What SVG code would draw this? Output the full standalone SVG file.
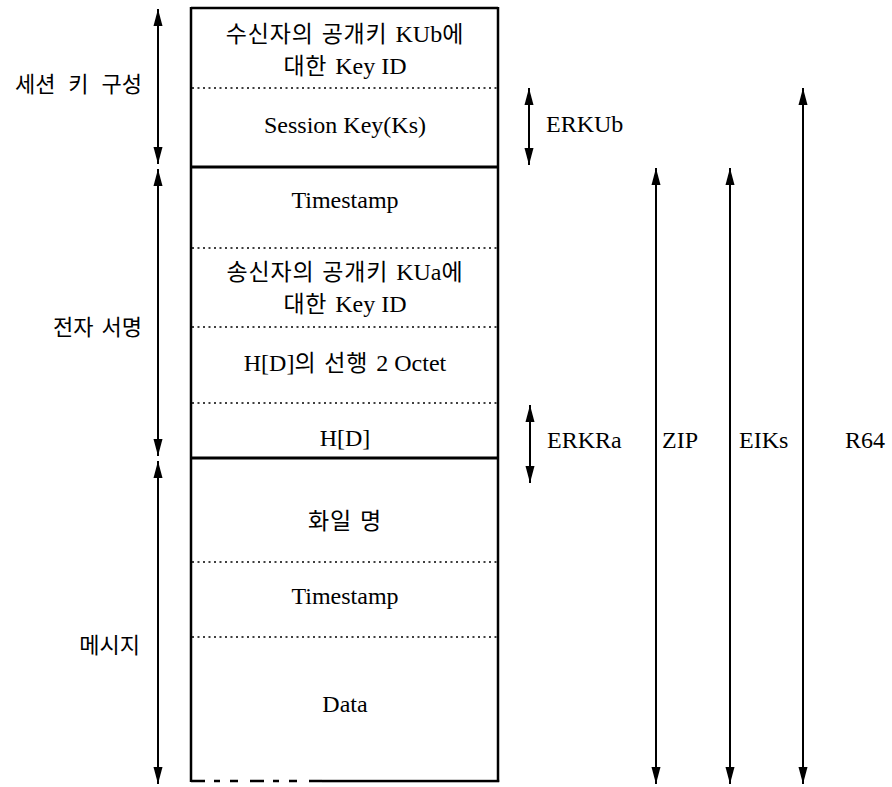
<svg xmlns="http://www.w3.org/2000/svg" width="892" height="787" viewBox="0 0 892 787">
<style>
.box{fill:none;stroke:#000;stroke-width:2.5}
.thick{stroke:#000;stroke-width:3}
.dot{stroke:#000;stroke-width:1.6;stroke-dasharray:2 3.5}
.arr{stroke:#000;stroke-width:2;fill:none}
.t{font-family:"Liberation Serif",serif;font-size:24px;fill:#000;text-anchor:middle}
.h{font-family:"Noto Sans CJK KR","Noto Sans",sans-serif;font-size:23px;word-spacing:2px;letter-spacing:0.8px}
.k{font-family:"Noto Sans CJK KR","Noto Sans",sans-serif;font-size:22px;fill:#000;text-anchor:end}
.r{font-family:"Liberation Serif",serif;font-size:24px;fill:#000}
</style>
<defs>
<marker id="ah" markerUnits="userSpaceOnUse" markerWidth="17" markerHeight="10" refX="17" refY="5" orient="auto-start-reverse">
<path d="M0,0.5 L17,5 L0,9.5 z" fill="#000"/>
</marker>
</defs>
<rect width="892" height="787" fill="#fff"/>
<g id="frame">
<line class="box" x1="191" y1="8" x2="498" y2="8"/>
<line class="box" x1="191" y1="7" x2="191" y2="782"/>
<line class="box" x1="498" y1="7" x2="498" y2="782"/>
<path class="box" d="M191,781 H322" stroke-dasharray="14 9 6 10 8 12"/>
<rect x="322" y="779.8" width="177.2" height="2.5" fill="#000"/>
<line class="thick" x1="191" y1="167" x2="498" y2="167"/>
<line class="thick" x1="191" y1="458" x2="498" y2="458"/>
<line class="dot" x1="192" y1="88" x2="497" y2="88"/>
<line class="dot" x1="192" y1="248" x2="497" y2="248"/>
<line class="dot" x1="192" y1="327" x2="497" y2="327"/>
<line class="dot" x1="192" y1="403" x2="497" y2="403"/>
<line class="dot" x1="192" y1="562" x2="497" y2="562"/>
<line class="dot" x1="192" y1="637" x2="497" y2="637"/>
</g>
<g id="f-kub"><text class="t" x="345" y="42"><tspan class="h">수신자의 공개키 </tspan>KUb<tspan class="h">에</tspan></text><text class="t" x="345" y="74"><tspan class="h">대한 </tspan>Key ID</text></g>
<g id="f-ks"><text class="t" x="345" y="133">Session Key(Ks)</text></g>
<g id="f-ts1"><text class="t" x="345" y="208">Timestamp</text></g>
<g id="f-kua"><text class="t" x="345" y="280"><tspan class="h">송신자의 공개키 </tspan>KUa<tspan class="h">에</tspan></text><text class="t" x="345" y="312"><tspan class="h">대한 </tspan>Key ID</text></g>
<g id="f-oct"><text class="t" x="345" y="371">H[D]<tspan class="h">의 선행 </tspan>2 Octet</text></g>
<g id="f-hd"><text class="t" x="345" y="446">H[D]</text></g>
<g id="f-name"><text class="t" x="345" y="529"><tspan class="h">화일 명</tspan></text></g>
<g id="f-ts2"><text class="t" x="345" y="604">Timestamp</text></g>
<g id="f-data"><text class="t" x="345" y="712">Data</text></g>
<g id="l-session"><text class="k" x="142" y="92" word-spacing="8">세션 키 구성</text></g>
<g id="l-sign"><text class="k" x="142" y="335" word-spacing="3">전자 서명</text></g>
<g id="l-msg"><text class="k" x="140" y="653">메시지</text></g>
<g id="l-erkub"><text class="r" x="546" y="132">ERKUb</text></g>
<g id="l-erkra"><text class="r" x="547" y="448">ERKRa</text></g>
<g id="l-zip"><text class="r" x="662" y="448">ZIP</text></g>
<g id="l-eiks"><text class="r" x="739" y="448">EIKs</text></g>
<g id="l-r64"><text class="r" x="845" y="448">R64</text></g>
<g id="connectors">
<line class="arr" x1="158" y1="9" x2="158" y2="164" marker-start="url(#ah)" marker-end="url(#ah)"/>
<line class="arr" x1="158" y1="169" x2="158" y2="456" marker-start="url(#ah)" marker-end="url(#ah)"/>
<line class="arr" x1="158" y1="461" x2="158" y2="784" marker-start="url(#ah)" marker-end="url(#ah)"/>
<line class="arr" x1="529" y1="88" x2="529" y2="165" marker-start="url(#ah)" marker-end="url(#ah)"/>
<line class="arr" x1="530" y1="405" x2="530" y2="483" marker-start="url(#ah)" marker-end="url(#ah)"/>
<line class="arr" x1="656" y1="168" x2="656" y2="784" marker-start="url(#ah)" marker-end="url(#ah)"/>
<line class="arr" x1="730" y1="168" x2="730" y2="784" marker-start="url(#ah)" marker-end="url(#ah)"/>
<line class="arr" x1="803" y1="88" x2="803" y2="784" marker-start="url(#ah)" marker-end="url(#ah)"/>
</g>
</svg>
